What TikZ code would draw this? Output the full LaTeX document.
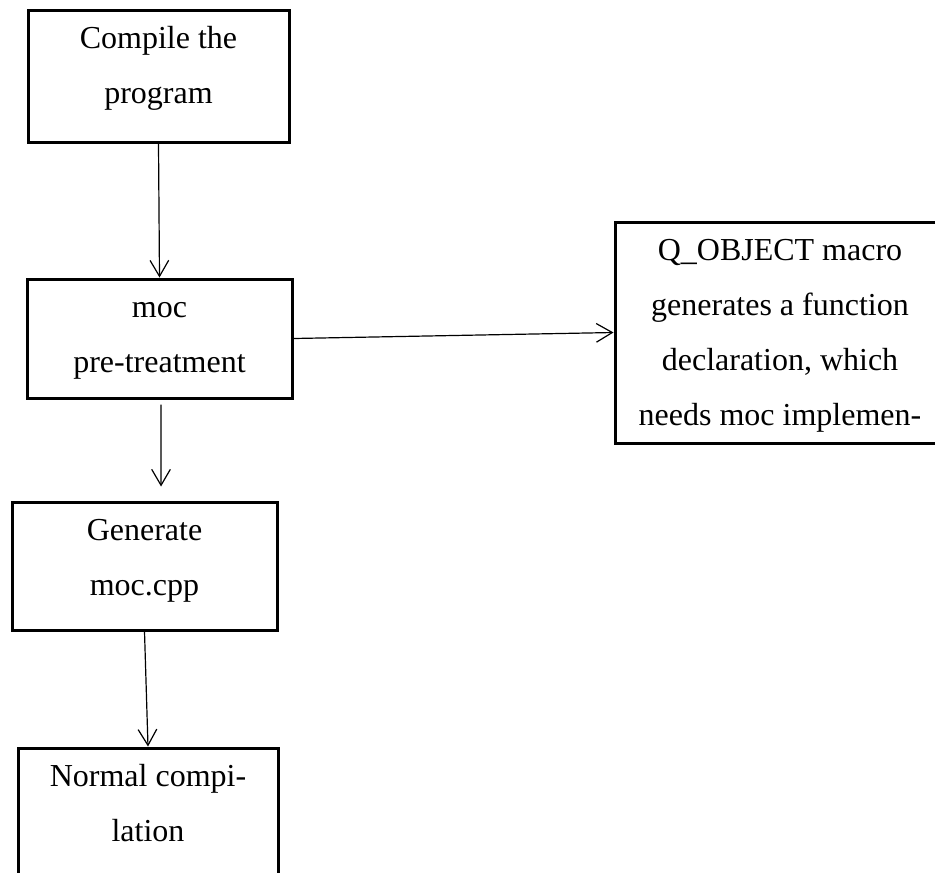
\documentclass[tikz,border=0pt]{standalone}
\usepackage{fontspec}
\setmainfont{Liberation Serif}
\usetikzlibrary{arrows.meta}
% invisible strut that puts the first baseline 30pt below the top of a box
\newcommand{\topgap}{\rule{0pt}{30pt}}
\begin{document}
\begin{tikzpicture}[x=0.75pt,y=-0.75pt,
  box/.style={draw, line width=2.25pt, rectangle, inner sep=0pt},
  boxtext/.style={anchor=north, align=center, inner sep=0pt,
    font=\fontsize{24pt}{41.25pt}\selectfont},
  flow/.style={line width=0.9pt, -{Straight Barb[length=12pt,width=14pt]}}]
\useasboundingbox (0,0) rectangle (935,872);
\clip (0,0) rectangle (935,872);

% process boxes
\node[box, minimum width=195.75pt, minimum height=99pt]    (b1) at (158.5,76)   {};
\node[box, minimum width=198.75pt, minimum height=89.25pt] (b2) at (159.5,338.5) {};
\node[box, minimum width=198.75pt, minimum height=96pt]    (b3) at (144.5,566)  {};
\node[box, minimum width=195pt,    minimum height=99pt]    (b4) at (148,814)    {};
\node[box, minimum width=247.5pt,  minimum height=165.75pt] (bq) at (780,332.5) {};

% box texts, set from the top of each box
\node[boxtext] (t1) at (b1.north) {\topgap Compile the\\program};
\node[boxtext] (t2) at (b2.north) {\topgap moc\\pre-treatment};
\node[boxtext] (t3) at (b3.north) {\topgap Generate\\moc.cpp};
\node[boxtext] (t4) at (b4.north) {\topgap Normal compi-\\lation};
\node[boxtext] (tq) at (bq.north)
  {\topgap Q\_OBJECT macro\\generates a function\\declaration, which\\needs moc implemen-};

% connectors
\draw[flow] (b1.south) -- (b2.north);
\draw[flow] (b2.east) -- (bq.west);
\draw[flow] ([xshift=1.1pt,yshift=-3.75pt]b2.south) -- ([xshift=12.4pt,yshift=10.5pt]b3.north);
\draw[flow] (b3.south) -- (b4.north);
\end{tikzpicture}
\end{document}
